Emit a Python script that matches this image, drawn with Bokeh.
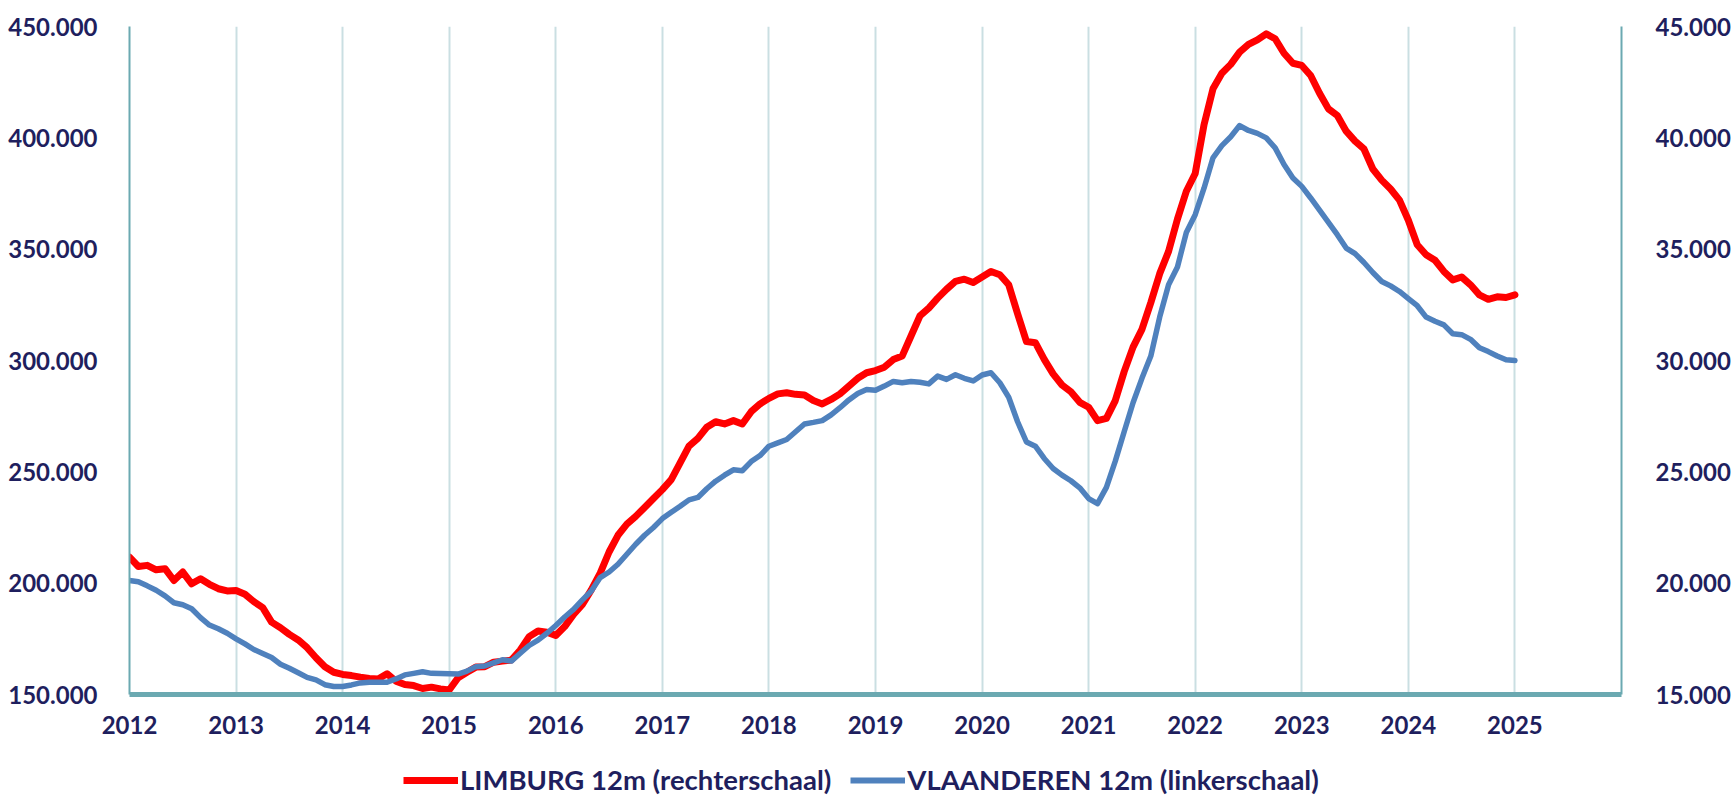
import pandas as pd
from bokeh.plotting import figure
from bokeh.layouts import column
from bokeh.models import (Range1d, LinearAxis, FixedTicker, CustomJSTickFormatter,
                          Legend, LegendItem, ColumnDataSource)
from bokeh.embed import file_html
from bokeh.resources import INLINE

# ---------------- data ----------------
months = pd.date_range("2012-01-01", periods=157, freq="MS")

limburg = [
    21170, 20750, 20800, 20600, 20650, 20120, 20500, 19970, 20200, 19950, 19750, 19650,
    19670, 19500, 19170, 18900, 18250, 18000, 17700, 17450, 17100, 16650, 16250, 16000,
    15900, 15850, 15780, 15720, 15700, 15930, 15600, 15450, 15400, 15270, 15330, 15250,
    15200, 15750, 16000, 16230, 16250, 16450, 16500, 16550, 17000, 17600, 17850, 17800,
    17650, 18050, 18600, 19050, 19700, 20450, 21400, 22150, 22650, 23000, 23400, 23800,
    24200, 24650, 25400, 26150, 26500, 27000, 27250, 27150, 27300, 27150, 27700, 28050,
    28300, 28500, 28550, 28480, 28450, 28200, 28050, 28250, 28500, 28850, 29200, 29450,
    29550, 29700, 30040, 30200, 31100, 32000, 32350, 32800, 33200, 33550, 33650, 33500,
    33750, 34000, 33850, 33400, 32100, 30850, 30800, 30050, 29400, 28900, 28600, 28120,
    27900, 27300, 27400, 28200, 29500, 30600, 31400, 32600, 33900, 34900, 36350, 37600,
    38400, 40600, 42200, 42900, 43300, 43850, 44200, 44400, 44670, 44450, 43800, 43350,
    43250, 42800, 42000, 41300, 41000, 40300, 39850, 39500, 38600, 38100, 37700, 37200,
    36300, 35200, 34750, 34500, 34000, 33620, 33750, 33400, 32950, 32750, 32860, 32830, 32950,
]

vlaanderen = [
    201200, 200600, 198800, 196800, 194300, 191200, 190300, 188500, 184500, 181200, 179500, 177500,
    175000, 172700, 170200, 168400, 166600, 163600, 161800, 159800, 157700, 156600, 154400, 153600,
    153600, 154300, 155200, 155500, 155500, 155500, 157000, 158800, 159500, 160200, 159500, 159400,
    159300, 159200, 160500, 162500, 162800, 164200, 165600, 165000, 168500, 172000, 174400, 177500,
    181000, 184800, 188200, 192500, 196500, 202500, 205000, 208500, 213000, 217500, 221500, 225000,
    229000, 231800, 234500, 237400, 238500, 242400, 245800, 248500, 250900, 250500, 254600, 257300,
    261500, 263000, 264500, 268000, 271500, 272200, 273000, 275600, 278800, 282300, 285200, 287000,
    286600, 288500, 290600, 290000, 290600, 290200, 289500, 293000, 291500, 293600, 292000, 290800,
    293500, 294500, 290000, 283500, 272500, 263400, 261500, 256000, 251500, 248500, 246000, 242800,
    238000, 235700, 243000, 254800, 268000, 281000, 292000, 302000, 319500, 334000, 342000, 357500,
    365500, 377500, 391000, 396500, 400500, 405500, 403300, 402000, 400000, 395500, 388000, 382000,
    378200, 373000, 367500, 362000, 356500, 350500, 348000, 344000, 339500, 335500, 333500, 331000,
    327800, 324600, 319500, 317600, 316000, 312000, 311600, 309500, 305700, 304000, 302000, 300300, 300000,
]

year_ticks = [2012, 2013, 2014, 2015, 2016, 2017, 2018, 2019, 2020, 2021, 2022, 2023, 2024, 2025]
left_ticks = [150000, 200000, 250000, 300000, 350000, 400000, 450000]
right_ticks = [15000, 20000, 25000, 30000, 35000, 40000, 45000]

label_limburg = "LIMBURG 12m (rechterschaal)"
label_vlaanderen = "VLAANDEREN 12m (linkerschaal)"

# ---------------- styling ----------------
TEXT = "#1F1F5E"
TEAL = "#6BA9B1"
GRID = "#CADFE2"
RED = "#FF0000"
BLUE = "#4F81BD"
FONT = "Lato"
FSIZE = "24px"
LEG_FSIZE = "27.5px"

xs = [d.year + (d.month - 1) / 12 for d in months]
src = ColumnDataSource(dict(x=xs, limburg=limburg, vlaanderen=vlaanderen))

MAIN_H = 758
p = figure(width=1733, height=MAIN_H, output_backend="svg", toolbar_location=None,
           x_range=Range1d(2012, 2026), y_range=Range1d(150000, 450000),
           min_border_left=129, min_border_right=112, min_border_top=26,
           min_border_bottom=MAIN_H - 694)
p.outline_line_color = None
p.background_fill_color = "white"
p.border_fill_color = "white"

p.extra_y_ranges = {"right": Range1d(15000, 45000)}

fmt = CustomJSTickFormatter(code="""
return Math.round(tick).toString().replace(/\\B(?=(\\d{3})+(?!\\d))/g, '.');
""")

# x axis
xa = p.xaxis[0]
xa.ticker = FixedTicker(ticks=year_ticks)
xa.axis_line_color = TEAL
xa.axis_line_width = 5
xa.major_tick_line_color = None
xa.minor_tick_line_color = None
xa.major_label_standoff = 15
xa.major_label_text_font = FONT
xa.major_label_text_font_style = "bold"
xa.major_label_text_font_size = FSIZE
xa.major_label_text_color = TEXT

# left axis
ya = p.yaxis[0]
ya.ticker = FixedTicker(ticks=left_ticks)
ya.formatter = fmt
ya.axis_line_color = TEAL
ya.axis_line_width = 2
ya.major_tick_line_color = None
ya.minor_tick_line_color = None
ya.major_label_standoff = 26
ya.major_label_text_font = FONT
ya.major_label_text_font_style = "bold"
ya.major_label_text_font_size = FSIZE
ya.major_label_text_color = TEXT

# right axis
ra = LinearAxis(y_range_name="right", ticker=FixedTicker(ticks=right_ticks), formatter=fmt)
ra.axis_line_color = TEAL
ra.axis_line_width = 2
ra.major_tick_line_color = None
ra.minor_tick_line_color = None
ra.major_label_standoff = 28
ra.major_label_text_font = FONT
ra.major_label_text_font_style = "bold"
ra.major_label_text_font_size = FSIZE
ra.major_label_text_color = TEXT
p.add_layout(ra, "right")

p.xgrid.ticker = FixedTicker(ticks=year_ticks)
p.xgrid.grid_line_color = GRID
p.xgrid.grid_line_width = 2
p.ygrid.grid_line_color = None

r_red = p.line("x", "limburg", source=src, y_range_name="right", line_color=RED,
               line_width=7, line_join="round", line_cap="round")
r_blue = p.line("x", "vlaanderen", source=src, line_color=BLUE,
                line_width=5.5, line_join="round", line_cap="round")

# ---------------- legend strip (separate figure under the chart) ----------------
# Its renderers reuse the same data, which lies far outside this strip's ranges,
# so only the legend samples are visible.
LEG_H = 796 - MAIN_H
lp = figure(width=1733, height=LEG_H, output_backend="svg", toolbar_location=None,
            x_axis_type=None, y_axis_type=None,
            x_range=Range1d(0, 1), y_range=Range1d(0, 1),
            min_border_left=0, min_border_right=0, min_border_top=0, min_border_bottom=0)
lp.outline_line_color = None
lp.background_fill_color = "white"
lp.border_fill_color = "white"
lg_red = lp.line("x", "limburg", source=src, line_color=RED, line_width=7, line_cap="butt")
lg_blue = lp.line("x", "vlaanderen", source=src, line_color=BLUE, line_width=6, line_cap="butt")

legend = Legend(items=[LegendItem(label=label_limburg, renderers=[lg_red]),
                       LegendItem(label=label_vlaanderen, renderers=[lg_blue])],
                orientation="horizontal", location=(274, 0))
legend.label_text_font = FONT
legend.label_text_font_style = "bold"
legend.label_text_font_size = LEG_FSIZE
legend.label_text_color = TEXT
legend.glyph_width = 55
legend.glyph_height = 20
legend.label_standoff = 2
legend.spacing = 19
legend.padding = 0
legend.margin = 0
legend.border_line_color = None
legend.background_fill_alpha = 0
lp.add_layout(legend, "center")

layout = column(p, lp, spacing=0)
open("out.html", "w").write(file_html(layout, INLINE))
